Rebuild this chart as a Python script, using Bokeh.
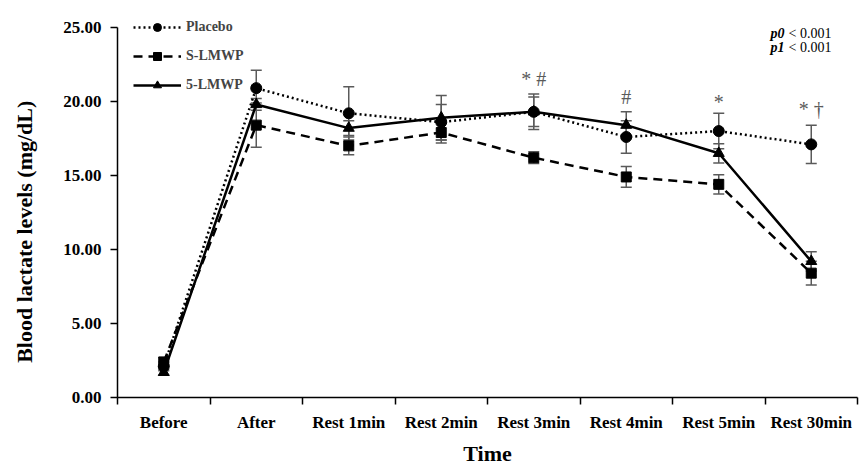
from bokeh.plotting import figure
from bokeh.models import (ColumnDataSource, Range1d, FixedTicker, NumeralTickFormatter,
                          Whisker, TeeHead, Legend, LegendItem, Label)
from bokeh.core.properties import value
from bokeh.embed import file_html
from bokeh.resources import INLINE

# ---------------- data ----------------
categories = ["Before", "After", "Rest 1min", "Rest 2min", "Rest 3min",
              "Rest 4min", "Rest 5min", "Rest 30min"]

placebo = [2.1, 20.9, 19.2, 18.6, 19.3, 17.6, 18.0, 17.1]
placebo_err = [0.3, 1.2, 1.8, 1.2, 1.2, 1.1, 1.2, 1.3]

s_lmwp = [2.4, 18.4, 17.0, 17.9, 16.2, 14.9, 14.4, 8.4]
s_lmwp_err = [0.3, 1.5, 0.6, 0.7, 0.4, 0.7, 0.65, 0.8]

five_lmwp = [1.7, 19.8, 18.2, 18.9, 19.3, 18.4, 16.5, 9.2]
five_lmwp_err = [0.2, 0.4, 0.5, 1.5, 1.0, 0.9, 0.65, 0.65]

sig_categories = ["Rest 3min", "Rest 4min", "Rest 5min", "Rest 30min"]
sig_text = ["* #", "#", "*", "* \u2020"]
sig_y = [21.55, 20.3, 19.95, 19.5]

y_ticks = [0, 5, 10, 15, 20, 25]
p_texts = [("p0", "< 0.001", 24.6), ("p1", "< 0.001", 23.65)]

FONT = "Liberation Serif"
GRAY = "#5a5a5a"

xs = [i + 0.5 for i in range(len(categories))]

# frame: bottom at 398 px, 25 at 27 px -> 14.84 px per unit; frame top at 5 px
Y_MAX = 25 + 22 / 14.84

p = figure(width=859, height=468, output_backend="svg", toolbar_location=None,
           x_range=Range1d(0, len(categories)), y_range=Range1d(0, Y_MAX),
           min_border_left=117, min_border_right=2, min_border_top=5,
           min_border_bottom=70)
p.outline_line_color = None
p.grid.visible = False
p.background_fill_color = "white"

# axes
xa = p.xaxis[0]
xa.ticker = FixedTicker(ticks=xs, minor_ticks=list(range(len(categories) + 1)))
xa.major_label_overrides = {x: c for x, c in zip(xs, categories)}
xa.major_tick_line_color = None
xa.major_tick_out = 7
xa.major_tick_in = 0
xa.minor_tick_line_color = "black"
xa.minor_tick_line_width = 1.5
xa.minor_tick_out = 7
xa.minor_tick_in = 0
xa.axis_line_width = 1.5
xa.axis_label = "Time"
xa.major_label_standoff = 8
xa.axis_label_standoff = 6

ya = p.yaxis[0]
ya.ticker = FixedTicker(ticks=y_ticks, minor_ticks=[])
ya.formatter = NumeralTickFormatter(format="0.00")
ya.bounds = (0, 25)
ya.major_tick_out = 7
ya.major_tick_in = 0
ya.major_tick_line_width = 1.5
ya.minor_tick_line_color = None
ya.axis_line_width = 1.5
ya.axis_label = "Blood lactate levels (mg/dL)" + "\u00a0" * 11
ya.major_label_standoff = 9
ya.axis_label_standoff = 23

for ax in (xa, ya):
    ax.major_label_text_font = FONT
    ax.major_label_text_font_style = "bold"
    ax.major_label_text_font_size = "17px"
    ax.major_label_text_color = "black"
    ax.axis_label_text_font = FONT
    ax.axis_label_text_font_style = "bold"
    ax.axis_label_text_font_size = "22px"
    ax.axis_label_text_color = "black"
    ax.axis_line_color = "black"

series = [
    ("Placebo", placebo, placebo_err, "2 3", "circle", 11),
    ("S-LMWP", s_lmwp, s_lmwp_err, "9 6", "square", 10),
    ("5-LMWP", five_lmwp, five_lmwp_err, "solid", "triangle", 11),
]

items = []
for name, vals, errs, dash, marker, size in series:
    src = ColumnDataSource(dict(x=xs, y=vals,
                                upper=[v + e for v, e in zip(vals, errs)],
                                lower=[v - e for v, e in zip(vals, errs)]))
    w = Whisker(source=src, base="x", upper="upper", lower="lower",
                dimension="height", line_color=GRAY, line_width=1.5,
                upper_head=TeeHead(size=11, line_color=GRAY, line_width=1.5),
                lower_head=TeeHead(size=11, line_color=GRAY, line_width=1.5))
    p.add_layout(w)
    ln = p.line("x", "y", source=src, line_color="black", line_width=2.5,
                line_dash=dash)
    sc = p.scatter("x", "y", source=src, marker=marker, size=size,
                   fill_color="black", line_color="black")
    items.append(LegendItem(label=name, renderers=[ln, sc]))

legend = Legend(items=items, location=(16, 302), glyph_width=48, glyph_height=20,
                label_standoff=5, spacing=9, padding=0, margin=0,
                background_fill_alpha=0, border_line_color=None,
                label_text_font=FONT, label_text_font_style="bold",
                label_text_font_size="14px", label_height=20)
p.add_layout(legend)

# significance marks
sig_x = [xs[categories.index(c)] for c in sig_categories]
p.text(x=sig_x, y=sig_y, text=sig_text, text_align="center", text_baseline="middle",
       text_font=value(FONT), text_font_size="20px", text_color=GRAY)

# p-values
for lbl, rest, yv in p_texts:
    p.add_layout(Label(x=len(categories), y=yv, x_offset=-26, text=rest,
                       text_align="right", text_baseline="middle",
                       text_font=FONT, text_font_size="14px", text_color="black"))
    p.add_layout(Label(x=len(categories), y=yv, x_offset=-73, text=lbl,
                       text_align="right", text_baseline="middle",
                       text_font=FONT, text_font_style="bold italic",
                       text_font_size="14px", text_color="black"))

open("out.html", "w").write(file_html(p, INLINE))
